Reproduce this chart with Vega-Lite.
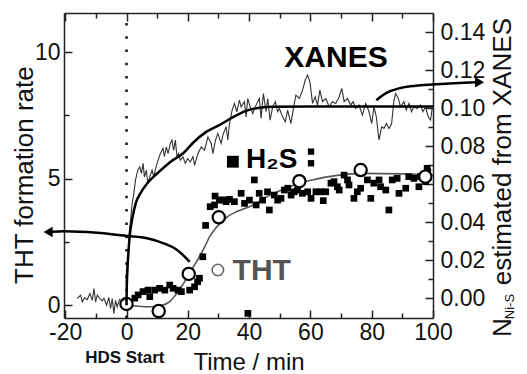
{
  "$schema": "https://vega.github.io/schema/vega-lite/v6.json",
  "width": 369,
  "height": 305,
  "autosize": "none",
  "padding": {"left": 64, "top": 13, "right": 94, "bottom": 56},
  "background": "white",
  "config": {
    "font": "Liberation Sans",
    "view": {"stroke": null},
    "axis": {
      "grid": false,
      "domainColor": "#222",
      "domainWidth": 1.5,
      "tickColor": "#222",
      "tickWidth": 1.5,
      "labelColor": "#111",
      "labelFontSize": 23,
      "labelFont": "Liberation Sans",
      "labelFlush": false,
      "labelOverlap": false,
      "titleFont": "Liberation Sans",
      "titleFontWeight": "normal",
      "titleColor": "#111"
    }
  },
  "datasets": {
    "xanes": [
      {"x": -16.05, "n": 0.0}, {"x": -14.97, "n": 0.0016}, {"x": -14.43, "n": -0.0019}, {"x": -13.67, "n": 0.0004},
      {"x": -12.8, "n": -0.0007}, {"x": -11.94, "n": 0.0025}, {"x": -11.18, "n": -0.0011}, {"x": -10.63, "n": 0.0051},
      {"x": -10.09, "n": -0.0019}, {"x": -9.55, "n": 0.0016}, {"x": -8.68, "n": -0.0002}, {"x": -7.92, "n": -0.0014},
      {"x": -7.38, "n": 0.0}, {"x": -6.51, "n": -0.0037}, {"x": -5.76, "n": 0.0004}, {"x": -5.21, "n": -0.0054},
      {"x": -4.67, "n": -0.0002}, {"x": -4.13, "n": -0.0081}, {"x": -3.59, "n": -0.0011}, {"x": -3.05, "n": -0.0046},
      {"x": -2.29, "n": -0.0007}, {"x": -1.42, "n": -0.0014}, {"x": -0.55, "n": -0.0007}, {"x": -0.12, "n": -0.0002},
      {"x": 0.3, "n": 0.005}, {"x": 0.75, "n": 0.0323}, {"x": 1.29, "n": 0.0411}, {"x": 1.83, "n": 0.0499},
      {"x": 2.38, "n": 0.0552}, {"x": 2.92, "n": 0.0622}, {"x": 3.67, "n": 0.0674}, {"x": 4.33, "n": 0.0692},
      {"x": 4.87, "n": 0.0657}, {"x": 5.41, "n": 0.071}, {"x": 5.84, "n": 0.0639}, {"x": 6.49, "n": 0.0674},
      {"x": 6.93, "n": 0.0604}, {"x": 7.58, "n": 0.0639}, {"x": 8.34, "n": 0.0674}, {"x": 8.88, "n": 0.0639},
      {"x": 9.64, "n": 0.0692}, {"x": 10.29, "n": 0.0727}, {"x": 11.05, "n": 0.0762}, {"x": 11.91, "n": 0.0789},
      {"x": 12.35, "n": 0.0745}, {"x": 13.0, "n": 0.0797}, {"x": 13.54, "n": 0.0762}, {"x": 14.3, "n": 0.0815},
      {"x": 14.84, "n": 0.0833}, {"x": 15.38, "n": 0.0778}, {"x": 15.93, "n": 0.0833}, {"x": 16.47, "n": 0.0745},
      {"x": 17.01, "n": 0.0762}, {"x": 17.56, "n": 0.0727}, {"x": 18.42, "n": 0.0745}, {"x": 19.18, "n": 0.071},
      {"x": 19.93, "n": 0.0736}, {"x": 20.8, "n": 0.0718}, {"x": 21.67, "n": 0.0745}, {"x": 22.22, "n": 0.0700},
      {"x": 23.3, "n": 0.0762}, {"x": 24.38, "n": 0.0797}, {"x": 25.47, "n": 0.078}, {"x": 26.55, "n": 0.085},
      {"x": 27.63, "n": 0.0815}, {"x": 28.18, "n": 0.0762}, {"x": 29.04, "n": 0.0833}, {"x": 29.8, "n": 0.0868},
      {"x": 30.89, "n": 0.0815}, {"x": 31.43, "n": 0.0859}, {"x": 32.51, "n": 0.0903}, {"x": 33.05, "n": 0.0833},
      {"x": 33.6, "n": 0.092}, {"x": 34.46, "n": 0.0991}, {"x": 35.22, "n": 0.1026}, {"x": 35.98, "n": 0.0982},
      {"x": 36.85, "n": 0.1043}, {"x": 37.39, "n": 0.1008}, {"x": 38.47, "n": 0.1035}, {"x": 39.02, "n": 0.0955},
      {"x": 39.56, "n": 0.1052}, {"x": 40.32, "n": 0.1008}, {"x": 41.19, "n": 0.0973}, {"x": 42.27, "n": 0.1017},
      {"x": 43.36, "n": 0.1052}, {"x": 43.9, "n": 0.0947}, {"x": 44.66, "n": 0.1078}, {"x": 45.52, "n": 0.0982},
      {"x": 46.07, "n": 0.1052}, {"x": 46.83, "n": 0.0938}, {"x": 47.69, "n": 0.1008}, {"x": 48.56, "n": 0.1035},
      {"x": 49.31, "n": 0.0982}, {"x": 49.86, "n": 0.0999}, {"x": 50.94, "n": 0.0955}, {"x": 51.81, "n": 0.0929},
      {"x": 52.57, "n": 0.0991}, {"x": 53.65, "n": 0.092}, {"x": 54.19, "n": 0.0973}, {"x": 54.74, "n": 0.1026},
      {"x": 55.28, "n": 0.107}, {"x": 56.36, "n": 0.1052}, {"x": 57.45, "n": 0.1096}, {"x": 58.32, "n": 0.1149},
      {"x": 59.07, "n": 0.1175}, {"x": 59.83, "n": 0.114}, {"x": 60.7, "n": 0.1026}, {"x": 61.56, "n": 0.1061},
      {"x": 62.32, "n": 0.1017}, {"x": 63.08, "n": 0.1096}, {"x": 63.95, "n": 0.1035}, {"x": 65.03, "n": 0.1052},
      {"x": 66.12, "n": 0.1008}, {"x": 67.2, "n": 0.1035}, {"x": 68.28, "n": 0.1026}, {"x": 69.37, "n": 0.1061},
      {"x": 70.24, "n": 0.1105}, {"x": 71.0, "n": 0.1035}, {"x": 72.08, "n": 0.1052}, {"x": 73.16, "n": 0.1017},
      {"x": 73.92, "n": 0.1035}, {"x": 74.79, "n": 0.0999}, {"x": 75.87, "n": 0.1017}, {"x": 76.96, "n": 0.0964},
      {"x": 78.04, "n": 0.1026}, {"x": 79.13, "n": 0.0982}, {"x": 80.0, "n": 0.092}, {"x": 80.75, "n": 0.1008},
      {"x": 81.51, "n": 0.0955}, {"x": 82.38, "n": 0.0833}, {"x": 83.25, "n": 0.0903}, {"x": 84.01, "n": 0.0894},
      {"x": 84.77, "n": 0.092}, {"x": 85.63, "n": 0.0894}, {"x": 86.5, "n": 0.092}, {"x": 87.26, "n": 0.1043},
      {"x": 87.8, "n": 0.1078}, {"x": 88.67, "n": 0.1052}, {"x": 89.43, "n": 0.1008}, {"x": 90.51, "n": 0.1035},
      {"x": 91.27, "n": 0.0991}, {"x": 92.14, "n": 0.1026}, {"x": 93.01, "n": 0.0982}, {"x": 93.77, "n": 0.1008},
      {"x": 94.85, "n": 0.0999}, {"x": 95.94, "n": 0.1017}, {"x": 96.7, "n": 0.0982}, {"x": 97.57, "n": 0.1008},
      {"x": 98.43, "n": 0.0955}, {"x": 99.19, "n": 0.0938}, {"x": 99.73, "n": 0.0999}
    ],
    "xfit": [
      {"x": 0.0, "n": -0.0037}, {"x": 0.1, "n": 0.01}, {"x": 0.5, "n": 0.021}, {"x": 1.0, "n": 0.032},
      {"x": 2.0, "n": 0.043}, {"x": 3.0, "n": 0.05}, {"x": 4.5, "n": 0.0552}, {"x": 6.7, "n": 0.0604},
      {"x": 10.0, "n": 0.0657}, {"x": 14.3, "n": 0.0718}, {"x": 18.6, "n": 0.0765}, {"x": 21.8, "n": 0.082},
      {"x": 26.0, "n": 0.0876}, {"x": 30.3, "n": 0.0912}, {"x": 34.6, "n": 0.0952}, {"x": 39.0, "n": 0.0987},
      {"x": 43.3, "n": 0.1003}, {"x": 47.7, "n": 0.1008}, {"x": 60.0, "n": 0.101}, {"x": 100.0, "n": 0.101}
    ],
    "arrowR": [
      {"x": 81.5, "n": 0.1043}, {"x": 84.55, "n": 0.1079}, {"x": 88.88, "n": 0.1105}, {"x": 94.3, "n": 0.1119},
      {"x": 99.7, "n": 0.1126}, {"x": 108.4, "n": 0.1134}, {"x": 114.0, "n": 0.1137}
    ],
    "tht": [
      {"x": 0.0, "y": 0.04}, {"x": 10.5, "y": -0.24}, {"x": 20.3, "y": 1.23}, {"x": 30.1, "y": 3.47},
      {"x": 56.4, "y": 4.9}, {"x": 76.4, "y": 5.34}, {"x": 97.5, "y": 5.08}
    ],
    "thtfit": [
      {"x": 0, "y": 0}, {"x": 4, "y": -0.05}, {"x": 8, "y": -0.07}, {"x": 11, "y": -0.03}, {"x": 14.1, "y": 0.13},
      {"x": 16, "y": 0.4}, {"x": 17.9, "y": 0.72}, {"x": 20.3, "y": 1.2}, {"x": 22, "y": 1.55}, {"x": 23.8, "y": 1.91},
      {"x": 25.5, "y": 2.3}, {"x": 27.1, "y": 2.7}, {"x": 28.7, "y": 2.98}, {"x": 30.3, "y": 3.2}, {"x": 33, "y": 3.5},
      {"x": 36, "y": 3.7}, {"x": 41.2, "y": 3.95}, {"x": 46, "y": 4.3}, {"x": 52, "y": 4.62}, {"x": 56.4, "y": 4.82},
      {"x": 60.6, "y": 4.95}, {"x": 65, "y": 5.06}, {"x": 69.4, "y": 5.14}, {"x": 76.4, "y": 5.21}, {"x": 90, "y": 5.19},
      {"x": 100, "y": 5.14}
    ],
    "h2s": [
      {"x": 2.7, "y": 0.27}, {"x": 3.8, "y": 0.4}, {"x": 5.4, "y": 0.53}, {"x": 7.0, "y": 0.59}, {"x": 7.6, "y": 0.33},
      {"x": 9.2, "y": 0.59}, {"x": 10.8, "y": 0.66}, {"x": 12.5, "y": 0.59}, {"x": 14.1, "y": 0.79}, {"x": 15.2, "y": 0.66},
      {"x": 16.8, "y": 0.59}, {"x": 17.9, "y": 0.53}, {"x": 20.6, "y": 0.59}, {"x": 22.2, "y": 0.72}, {"x": 23.2, "y": 0.92},
      {"x": 23.8, "y": 1.06}, {"x": 24.9, "y": 1.91}, {"x": 25.8, "y": 3.15}, {"x": 27.3, "y": 3.89}, {"x": 28.7, "y": 3.96},
      {"x": 28.9, "y": 4.31}, {"x": 30.3, "y": 4.15}, {"x": 31.4, "y": 4.16}, {"x": 32.5, "y": 4.09}, {"x": 33.6, "y": 4.18},
      {"x": 35.2, "y": 4.09}, {"x": 37.4, "y": 4.42}, {"x": 38.5, "y": 4.02}, {"x": 39.6, "y": -0.33}, {"x": 40.1, "y": 4.15},
      {"x": 41.7, "y": 4.95}, {"x": 42.3, "y": 3.96}, {"x": 43.3, "y": 4.42}, {"x": 44.4, "y": 4.15}, {"x": 46.0, "y": 4.48},
      {"x": 46.6, "y": 3.76}, {"x": 48.2, "y": 4.35}, {"x": 49.3, "y": 4.15}, {"x": 50.4, "y": 4.22}, {"x": 51.5, "y": 4.55},
      {"x": 52.6, "y": 4.62}, {"x": 53.7, "y": 4.35}, {"x": 54.7, "y": 4.48}, {"x": 55.8, "y": 4.55}, {"x": 57.4, "y": 4.42},
      {"x": 59.1, "y": 4.48}, {"x": 60.2, "y": 4.22}, {"x": 61.8, "y": 4.48}, {"x": 63.4, "y": 4.48}, {"x": 64.2, "y": 4.13},
      {"x": 65.0, "y": 4.48}, {"x": 66.7, "y": 4.82}, {"x": 67.7, "y": 4.88}, {"x": 68.8, "y": 4.68}, {"x": 69.4, "y": 4.55},
      {"x": 71.0, "y": 5.14}, {"x": 72.1, "y": 4.95}, {"x": 72.6, "y": 4.75}, {"x": 74.2, "y": 4.22}, {"x": 75.3, "y": 4.48},
      {"x": 76.4, "y": 4.62}, {"x": 78.6, "y": 4.95}, {"x": 79.7, "y": 4.22}, {"x": 80.7, "y": 4.82}, {"x": 82.4, "y": 4.95},
      {"x": 82.9, "y": 4.68}, {"x": 84.6, "y": 4.55}, {"x": 85.6, "y": 3.76}, {"x": 86.7, "y": 4.95}, {"x": 88.3, "y": 5.01},
      {"x": 88.9, "y": 4.42}, {"x": 91.1, "y": 4.62}, {"x": 92.1, "y": 5.08}, {"x": 93.8, "y": 5.01}, {"x": 95.4, "y": 4.68},
      {"x": 95.9, "y": 5.08}, {"x": 97.6, "y": 4.88}, {"x": 98.1, "y": 5.41}, {"x": 98.3, "y": 5.27}
    ],
    "arrowL": [
      {"x": 20.6, "y": 1.71}, {"x": 16.5, "y": 2.18}, {"x": 12.1, "y": 2.44}, {"x": 6.7, "y": 2.64}, {"x": 0.2, "y": 2.73},
      {"x": -9.6, "y": 2.86}, {"x": -20.4, "y": 2.92}, {"x": -24.5, "y": 2.9}
    ]
  },
  "layer": [
    {
      "encoding": {
        "x": {
          "field": "x", "type": "quantitative",
          "scale": {"domain": [-20.4, 100], "nice": false, "zero": false},
          "axis": {
            "orient": "bottom",
            "values": [-20, -10, 0, 10, 20, 30, 40, 50, 60, 70, 80, 90, 100],
            "labelExpr": "datum.value % 20 === 0 ? '' + datum.value : ''",
            "tickSize": {"condition": {"test": "datum.value % 20 === 0", "value": -8}, "value": -5},
            "labelPadding": 11,
            "title": "Time / min",
            "titleFontSize": 24,
            "titlePadding": 3
          }
        },
        "y": {
          "field": "y", "type": "quantitative",
          "scale": {"domain": [-0.514, 11.555], "nice": false, "zero": false},
          "axis": {
            "orient": "left",
            "values": [0, 2.5, 5, 7.5, 10],
            "labelExpr": "datum.value % 5 === 0 ? '' + datum.value : ''",
            "tickSize": {"condition": {"test": "datum.value % 5 === 0", "value": -8}, "value": -5},
            "labelPadding": 12,
            "title": null
          }
        }
      },
      "layer": [
        {
          "data": {"values": [{"x": 0, "y": -0.514, "y2": 11.45}]},
          "mark": {"type": "rule", "color": "#111", "strokeWidth": 2.5, "strokeDash": [2.5, 10.8]},
          "encoding": {"y2": {"field": "y2"}}
        },
        {
          "data": {"name": "thtfit"},
          "mark": {"type": "line", "color": "#555", "strokeWidth": 1.6, "interpolate": "monotone"}
        },
        {
          "data": {"name": "h2s"},
          "mark": {"type": "point", "shape": "square", "filled": true, "color": "#000", "size": 45, "opacity": 1}
        },
        {
          "data": {"name": "tht"},
          "mark": {"type": "point", "shape": "circle", "filled": false, "fill": "white", "fillOpacity": 1, "stroke": "#000", "strokeWidth": 2.2, "size": 150, "opacity": 1}
        },
        {
          "data": {"name": "arrowL"},
          "mark": {"type": "line", "color": "#000", "strokeWidth": 2.5, "interpolate": "monotone"}
        },
        {
          "data": {"values": [{"x": -25.6, "y": 2.89}]},
          "mark": {"type": "point", "shape": "triangle-left", "filled": true, "color": "#000", "size": 110, "opacity": 1}
        },
        {
          "data": {"values": [{"x": 34.7, "y": 5.67}]},
          "mark": {"type": "point", "shape": "square", "filled": true, "color": "#000", "size": 140, "opacity": 1}
        },
        {
          "data": {"values": [{"x": 60.2, "y": 6.07}, {"x": 60.2, "y": 5.61}]},
          "mark": {"type": "point", "shape": "square", "filled": true, "color": "#000", "size": 40, "opacity": 1}
        },
        {
          "data": {"values": [{"x": 39.0, "y": 5.42}]},
          "mark": {"type": "text", "text": "H₂S", "font": "Liberation Sans", "fontWeight": "bold", "fontSize": 28, "align": "left", "baseline": "alphabetic", "color": "#000"}
        },
        {
          "data": {"values": [{"x": 51.5, "y": 9.43}]},
          "mark": {"type": "text", "text": "XANES", "font": "Liberation Sans", "fontWeight": "bold", "fontSize": 30, "align": "left", "baseline": "alphabetic", "color": "#000"}
        },
        {
          "data": {"values": [{"x": 29.8, "y": 1.385}]},
          "mark": {"type": "point", "shape": "circle", "filled": false, "stroke": "#666", "strokeWidth": 1.6, "size": 130, "opacity": 1}
        },
        {
          "data": {"values": [{"x": 34.6, "y": 0.99}]},
          "mark": {"type": "text", "text": "THT", "font": "Liberation Sans", "fontWeight": "bold", "fontSize": 30, "align": "left", "baseline": "alphabetic", "color": "#555"}
        },
        {
          "data": {"values": [{"x": -0.55, "y": -2.28}]},
          "mark": {"type": "text", "text": "HDS Start", "font": "Liberation Sans", "fontWeight": "bold", "fontSize": 17, "align": "center", "baseline": "alphabetic", "color": "#111"}
        },
        {
          "data": {"values": [{"x": -30.5, "y": 5.14}]},
          "mark": {"type": "text", "text": "THT formation rate", "font": "Liberation Sans", "fontSize": 26, "angle": 270, "align": "center", "baseline": "alphabetic", "color": "#111"}
        },
        {
          "data": {"values": [{"x": 125.6, "y": -1.27}]},
          "mark": {"type": "text", "text": "N", "font": "Liberation Sans", "fontSize": 26, "angle": 270, "align": "left", "baseline": "alphabetic", "color": "#111"}
        },
        {
          "data": {"values": [{"x": 126.4, "y": -0.56}]},
          "mark": {"type": "text", "text": "Ni-S", "font": "Liberation Sans", "fontSize": 13, "angle": 270, "align": "left", "baseline": "alphabetic", "color": "#111"}
        },
        {
          "data": {"values": [{"x": 125.6, "y": 0.78}]},
          "mark": {"type": "text", "text": "estimated from XANES", "font": "Liberation Sans", "fontSize": 26, "angle": 270, "align": "left", "baseline": "alphabetic", "color": "#111"}
        }
      ]
    },
    {
      "encoding": {
        "x": {
          "field": "x", "type": "quantitative",
          "scale": {"domain": [-20.4, 100], "nice": false, "zero": false},
          "axis": {
            "orient": "top",
            "values": [-20, -10, 0, 10, 20, 30, 40, 50, 60, 70, 80, 90, 100],
            "labels": false,
            "tickSize": {"condition": {"test": "datum.value % 20 === 0", "value": -8}, "value": -5},
            "title": null
          }
        },
        "y": {
          "field": "n", "type": "quantitative",
          "scale": {"domain": [-0.0104, 0.1502], "nice": false, "zero": false},
          "axis": {
            "orient": "right",
            "values": [0, 0.01, 0.02, 0.03, 0.04, 0.05, 0.06, 0.07, 0.08, 0.09, 0.1, 0.11, 0.12, 0.13, 0.14],
            "labelExpr": "round(datum.value * 100) % 2 === 0 ? format(datum.value, '.2f') : ''",
            "tickSize": {"condition": {"test": "round(datum.value * 100) % 2 === 0", "value": -8}, "value": -5},
            "labelPadding": 15,
            "title": null
          }
        }
      },
      "layer": [
        {
          "data": {"name": "xanes"},
          "mark": {"type": "line", "color": "#333", "strokeWidth": 1.1}
        },
        {
          "data": {"name": "xfit"},
          "mark": {"type": "line", "color": "#000", "strokeWidth": 2.5, "interpolate": "monotone"}
        },
        {
          "data": {"name": "arrowR"},
          "mark": {"type": "line", "color": "#000", "strokeWidth": 2.5, "interpolate": "monotone"}
        },
        {
          "data": {"values": [{"x": 115.2, "n": 0.1137}]},
          "mark": {"type": "point", "shape": "triangle-right", "filled": true, "color": "#000", "size": 110, "opacity": 1}
        }
      ]
    }
  ],
  "resolve": {
    "scale": {"y": "independent"},
    "axis": {"x": "independent", "y": "independent"}
  }
}
